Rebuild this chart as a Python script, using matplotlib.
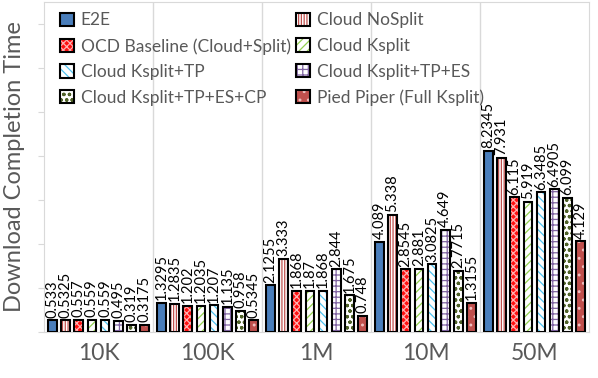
import numpy as np
import matplotlib
matplotlib.use("Agg")
import matplotlib.pyplot as plt
from matplotlib.patches import Patch

plt.rcParams['font.family'] = ['Lato', 'DejaVu Sans']
plt.rcParams['hatch.linewidth'] = 0.9

# data
sizes = ["10K", "100K", "1M", "10M", "50M"]
series = ["E2E", "Cloud NoSplit", "OCD Baseline (Cloud+Split)", "Cloud Ksplit",
          "Cloud Ksplit+TP", "Cloud Ksplit+TP+ES", "Cloud Ksplit+TP+ES+CP",
          "Pied Piper (Full Ksplit)"]
e2e = [0.533, 1.3295, 2.1255, 4.089, 8.2345]
nosplit = [0.5325, 1.2835, 3.333, 5.338, 7.931]
ocd = [0.557, 1.202, 1.868, 2.8545, 6.115]
ksplit = [0.559, 1.2035, 1.87, 2.881, 5.919]
ksplit_tp = [0.559, 1.207, 1.868, 3.0825, 6.3485]
ksplit_tp_es = [0.495, 1.135, 2.844, 4.649, 6.4905]
ksplit_tp_es_cp = [0.319, 0.958, 1.675, 2.7715, 6.099]
pied_piper = [0.3175, 0.5345, 0.748, 1.3155, 4.129]
labels = [
    ["0.533", "1.3295", "2.1255", "4.089", "8.2345"],
    ["0.5325", "1.2835", "3.333", "5.338", "7.931"],
    ["0.557", "1.202", "1.868", "2.8545", "6.115"],
    ["0.559", "1.2035", "1.87", "2.881", "5.919"],
    ["0.559", "1.207", "1.868", "3.0825", "6.3485"],
    ["0.495", "1.135", "2.844", "4.649", "6.4905"],
    ["0.319", "0.958", "1.675", "2.7715", "6.099"],
    ["0.3175", "0.5345", "0.748", "1.3155", "4.129"],
]
values = [e2e, nosplit, ocd, ksplit, ksplit_tp, ksplit_tp_es, ksplit_tp_es_cp, pied_piper]

# (face colour, hatch, hatch colour)
styles = [
    ("#4a7ebb", None, "#4a7ebb"),
    ("white", "||||||", "#c0504d"),
    ("#ff1010", "xxxxx", "#ffb0b0"),
    ("white", "////", "#92d050"),
    ("white", "\\\\\\\\", "#4fc3f0"),
    ("white", "+++", "#8064a2"),
    ("white", "ooo", "#4f6228"),
    ("#c0504d", "..", "#f0c0c0"),
]

fig = plt.figure(figsize=(5.98, 3.78), dpi=100)
ax = fig.add_axes([0.0736, 0.1217, 0.9114, 0.873])

x = np.arange(len(sizes))
step = 0.121
width = 0.078
handles = []
for i, vals in enumerate(values):
    fc, hatch, hc = styles[i]
    pos = x + (i - 3.5) * step
    ax.bar(pos, vals, width, color=fc, hatch=hatch, edgecolor=hc, linewidth=0, zorder=2)
    ax.bar(pos, vals, width, fill=False, edgecolor="black", linewidth=1.5, zorder=3)
    for p, v, t in zip(pos, vals, labels[i]):
        ax.text(p, v + 0.12, t, rotation=90, ha="center", va="bottom",
                fontsize=10.5, color="black", zorder=4)
    h1 = Patch(facecolor=fc, hatch=hatch, edgecolor=hc, linewidth=0)
    h2 = Patch(fill=False, edgecolor="black", linewidth=1.5)
    handles.append((h1, h2))

for b in np.arange(0.5, len(sizes) - 0.5, 1):
    ax.axvline(b, color="#d9d9d9", linewidth=1, zorder=0)

ax.set_xlim(-0.5, len(sizes) - 0.5)
ax.set_ylim(0, 15)
ax.set_yticks(np.arange(0, 15, 2))
ax.set_yticklabels([])
ax.tick_params(axis="y", length=4, color="#d9d9d9")
ax.set_xticks(x)
ax.set_xticklabels(sizes, fontsize=16.5, color="#595959")
ax.tick_params(axis="x", length=0, pad=8)
for s in ax.spines.values():
    s.set_color("#d9d9d9")
ax.set_ylabel("Download Completion Time", fontsize=17, color="#595959", labelpad=6)

# row-major order for the two-column legend
order = [0, 2, 4, 6, 1, 3, 5, 7]
ax.legend([handles[k] for k in order], [series[k] for k in order], ncol=2,
          loc="upper left", frameon=False, fontsize=12.5, labelcolor="#595959",
          handlelength=0.8, handleheight=0.8, handletextpad=0.4,
          columnspacing=0.3, labelspacing=0.55, borderaxespad=0.2,
          bbox_to_anchor=(0.01, 1.0))

fig.savefig("out.png", dpi=100)
